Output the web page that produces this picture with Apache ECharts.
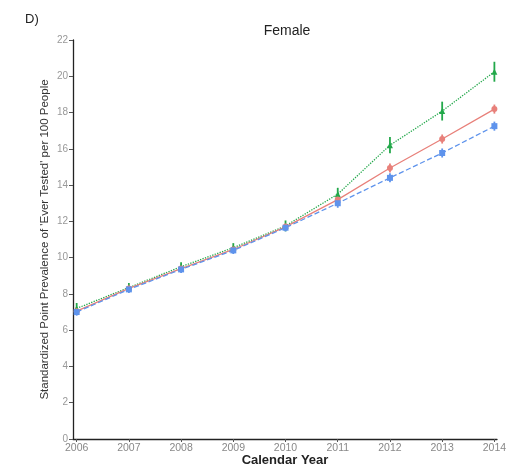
<!DOCTYPE html>
<html>
<head>
<meta charset="utf-8">
<script src="https://cdn.jsdelivr.net/npm/echarts@6/dist/echarts.min.js"></script>
<style>
  html, body { margin: 0; padding: 0; background: #fff; }
  #chart { width: 510px; height: 468px; }
</style>
</head>
<body>
<div id="chart"></div>
<script>
var years = [2006, 2007, 2008, 2009, 2010, 2011, 2012, 2013, 2014]

// green, dotted
var greenVals = [7.2, 8.35, 9.5, 10.55, 11.75, 13.5, 16.2, 18.08, 20.25]
var greenErr = [0.3, 0.25, 0.25, 0.25, 0.3, 0.35, 0.45, 0.52, 0.55]
// red, solid
var redVals = [7.05, 8.3, 9.4, 10.45, 11.7, 13.2, 14.94, 16.54, 18.19]
var redErr = [0.2, 0.2, 0.2, 0.2, 0.2, 0.25, 0.25, 0.25, 0.25]
// blue, dashed
var blueVals = [7.0, 8.25, 9.35, 10.4, 11.65, 13.0, 14.4, 15.77, 17.25]
var blueErr = [0.2, 0.2, 0.2, 0.2, 0.2, 0.25, 0.25, 0.25, 0.25]

var chart = echarts.init(document.getElementById('chart'))

function lineData(vals) {
  return years.map(function (y, i) { return [y, vals[i]] })
}

function errData(vals, err) {
  return years.map(function (y, i) { return [y, vals[i] - err[i], vals[i] + err[i]] })
}

function errSeries(vals, err, color) {
  return {
    type: 'custom',
    silent: true,
    z: 3,
    data: errData(vals, err),
    renderItem: function (params, api) {
      var lo = api.coord([api.value(0), api.value(1)])
      var hi = api.coord([api.value(0), api.value(2)])
      return {
        type: 'line',
        shape: { x1: lo[0], y1: lo[1], x2: hi[0], y2: hi[1] },
        style: { stroke: color, lineWidth: 1.8 }
      }
    }
  }
}

function mainSeries(name, vals, color, dash, symbol) {
  return {
    name: name,
    type: 'line',
    data: lineData(vals),
    symbol: symbol,
    symbolSize: 6,
    z: 4,
    itemStyle: { color: color },
    lineStyle: { color: color, width: 1.3, type: dash }
  }
}

chart.setOption({
  animation: false,
  backgroundColor: '#fff',
  title: [{
    text: 'Female',
    left: 282,
    top: 19,
    textAlign: 'center',
    textStyle: { fontFamily: 'Liberation Sans', fontSize: 14, fontWeight: 'normal', color: '#222' }
  }, {
    text: 'D)',
    left: 20,
    top: 8,
    textStyle: { fontFamily: 'Liberation Sans', fontSize: 13, fontWeight: 'normal', color: '#222' }
  }],
  grid: { left: 73, right: 13, top: 40, bottom: 29, outerBoundsMode: 'none', containLabel: false },
  xAxis: {
    type: 'value',
    min: 2005.93,
    max: 2014.05,
    name: 'Calendar Year',
    nameLocation: 'middle',
    nameGap: 15,
    nameMoveOverlap: false,
    nameTextStyle: { fontFamily: 'Liberation Sans', fontSize: 13, color: '#222', fontWeight: 'bold' },
    axisLine: { show: true, onZero: false, lineStyle: { color: '#222', width: 1.3 } },
    axisTick: { show: true, length: 3, customValues: years, lineStyle: { color: '#555' } },
    axisLabel: {
      customValues: years,
      margin: 4,
      fontFamily: 'Liberation Sans',
      fontSize: 10.5,
      color: '#888',
      formatter: function (v) { return String(Math.round(v)) }
    },
    splitLine: { show: false }
  },
  yAxis: {
    type: 'value',
    min: 0,
    max: 22,
    interval: 2,
    name: "Standardized Point Prevalence of 'Ever Tested' per 100 People",
    nameLocation: 'middle',
    nameGap: 22,
    nameMoveOverlap: false,
    nameTextStyle: { fontFamily: 'Liberation Sans', fontSize: 11.5, color: '#333' },
    axisLine: { show: true, lineStyle: { color: '#222', width: 1.3 } },
    axisTick: { show: true, length: 4, lineStyle: { color: '#555' } },
    axisLabel: { margin: 5, fontFamily: 'Liberation Sans', fontSize: 10, color: '#999' },
    splitLine: { show: false }
  },
  series: [
    mainSeries('green', greenVals, '#22A84A', 'dotted', 'triangle'),
    mainSeries('red', redVals, '#E8807A', 'solid', 'circle'),
    mainSeries('blue', blueVals, '#5E93EC', 'dashed', 'rect'),
    errSeries(greenVals, greenErr, '#22A84A'),
    errSeries(redVals, redErr, '#E8807A'),
    errSeries(blueVals, blueErr, '#5E93EC')
  ]
})
</script>
</body>
</html>
